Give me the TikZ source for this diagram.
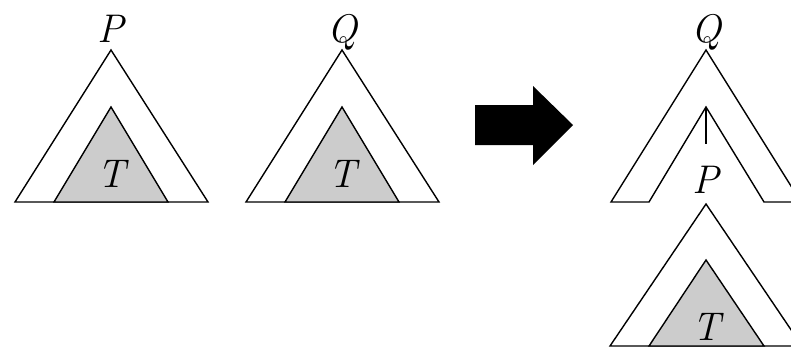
\documentclass[tikz,border=0pt]{standalone}
\definecolor{subgray}{RGB}{204, 204, 204}

\begin{document}
\begin{tikzpicture}[x=1pt, y=-1pt,
  tree/.style={draw, line width=1.4pt, fill=white, line join=miter},
  subtree/.style={draw, line width=1.4pt, fill=subgray},
  lbl/.style={font=\fontsize{40}{40}\selectfont\itshape, inner sep=0pt, anchor=base}
]
  \useasboundingbox (0,0) rectangle (791,359);

  % the two trees before the move
  \foreach \x/\name in {111/P, 342/Q} {
    \draw[tree] (\x,50) -- (\x-96,202) -- (\x+97,202) -- cycle;
    \draw[subtree] (\x,107) -- (\x-57,202) -- (\x+57,202) -- cycle;
    \node[lbl] (top\name) at (\x,42) {\name};
    \node[lbl] (sub\name) at (\x,187) {T};
  }

  % the move
  \fill (475,105) -- (533,105) -- (533,86) -- (573,125) -- (533,165)
    -- (533,145) -- (475,145) -- cycle;

  % Q with a hole where P hangs in, cut at the right edge
  \begin{scope}
    \clip (600,0) rectangle (791,359);
    \draw[tree] (706,50) -- (611,202) -- (649,202) -- (706,107) -- (764,202)
      -- (801,202) -- cycle;
    \draw[tree] (706,204) -- (610,346) -- (802,346) -- cycle;
    \draw[subtree] (706,260) -- (649,346) -- (764,346) -- cycle;
  \end{scope}
  \node[lbl] (newQ) at (706,42) {Q};
  \coordinate (hole) at (706,107);
  \node[lbl] (newP) at (706,193) {P};
  \draw[line width=1.4pt] (hole) -- (706,144);

  % P with T below
  \node[lbl] (newT) at (706,340) {T};
\end{tikzpicture}
\end{document}
